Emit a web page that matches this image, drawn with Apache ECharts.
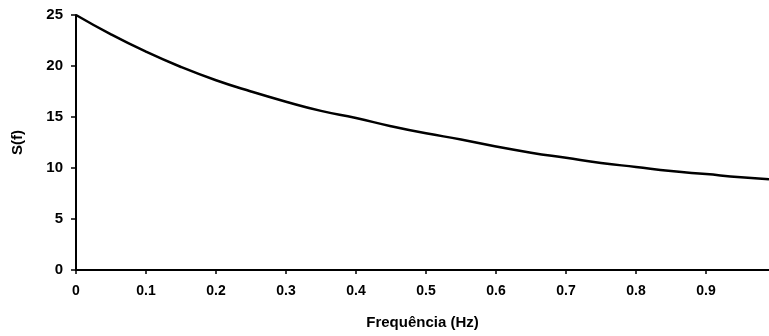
<!DOCTYPE html>
<html>
<head>
<meta charset="utf-8">
<script src="https://cdn.jsdelivr.net/npm/echarts@6/dist/echarts.min.js"></script>
<style>html,body{margin:0;padding:0;background:#fff}#c{width:769px;height:336px}</style>
</head>
<body>
<div id="c"></div>
<script>
const freq = [0, 0.05, 0.1, 0.15, 0.2, 0.25, 0.3, 0.35, 0.4, 0.45, 0.5, 0.55, 0.6, 0.65, 0.7, 0.75, 0.8, 0.85, 0.9, 0.95, 0.99];
const sValues = [25, 23.1, 21.4, 19.9, 18.6, 17.5, 16.5, 15.6, 14.9, 14.1, 13.4, 12.8, 12.1, 11.5, 11.0, 10.5, 10.1, 9.7, 9.4, 9.1, 8.9];
const xName = 'Frequência (Hz)';
const yName = 'S(f)';

const chart = echarts.init(document.getElementById('c'));
const font = {fontFamily: 'Liberation Sans, Arial, sans-serif', fontWeight: 'bold', color: '#000'};
chart.setOption({
  animation: false,
  grid: {left: 76, top: 15, right: 0, bottom: 66},
  xAxis: {
    type: 'value', min: 0, max: 0.99, interval: 0.1,
    name: xName, nameLocation: 'middle', nameGap: 45,
    nameTextStyle: Object.assign({fontSize: 15}, font),
    axisLine: {lineStyle: {color: '#000', width: 2}},
    axisTick: {show: true, length: 4, inside: false, lineStyle: {color: '#000', width: 1.5}},
    axisLabel: Object.assign({fontSize: 14, margin: 14, showMaxLabel: false,
      formatter: v => (Math.abs(v - 0.99) < 1e-6 ? '' : String(+v.toFixed(1)))}, font),
    splitLine: {show: false}
  },
  yAxis: {
    type: 'value', min: 0, max: 25, interval: 5,
    name: yName, nameLocation: 'middle', nameGap: 51, nameRotate: 90,
    nameTextStyle: Object.assign({fontSize: 15}, font),
    axisLine: {show: true, lineStyle: {color: '#000', width: 2}},
    axisTick: {show: true, length: 5, lineStyle: {color: '#000', width: 1.5}},
    axisLabel: Object.assign({fontSize: 15, margin: 13}, font),
    splitLine: {show: false}
  },
  series: [{
    type: 'line', smooth: true, showSymbol: false,
    data: freq.map((f, i) => [f, sValues[i]]),
    lineStyle: {color: '#000', width: 2.5}
  }]
});
</script>
</body>
</html>
